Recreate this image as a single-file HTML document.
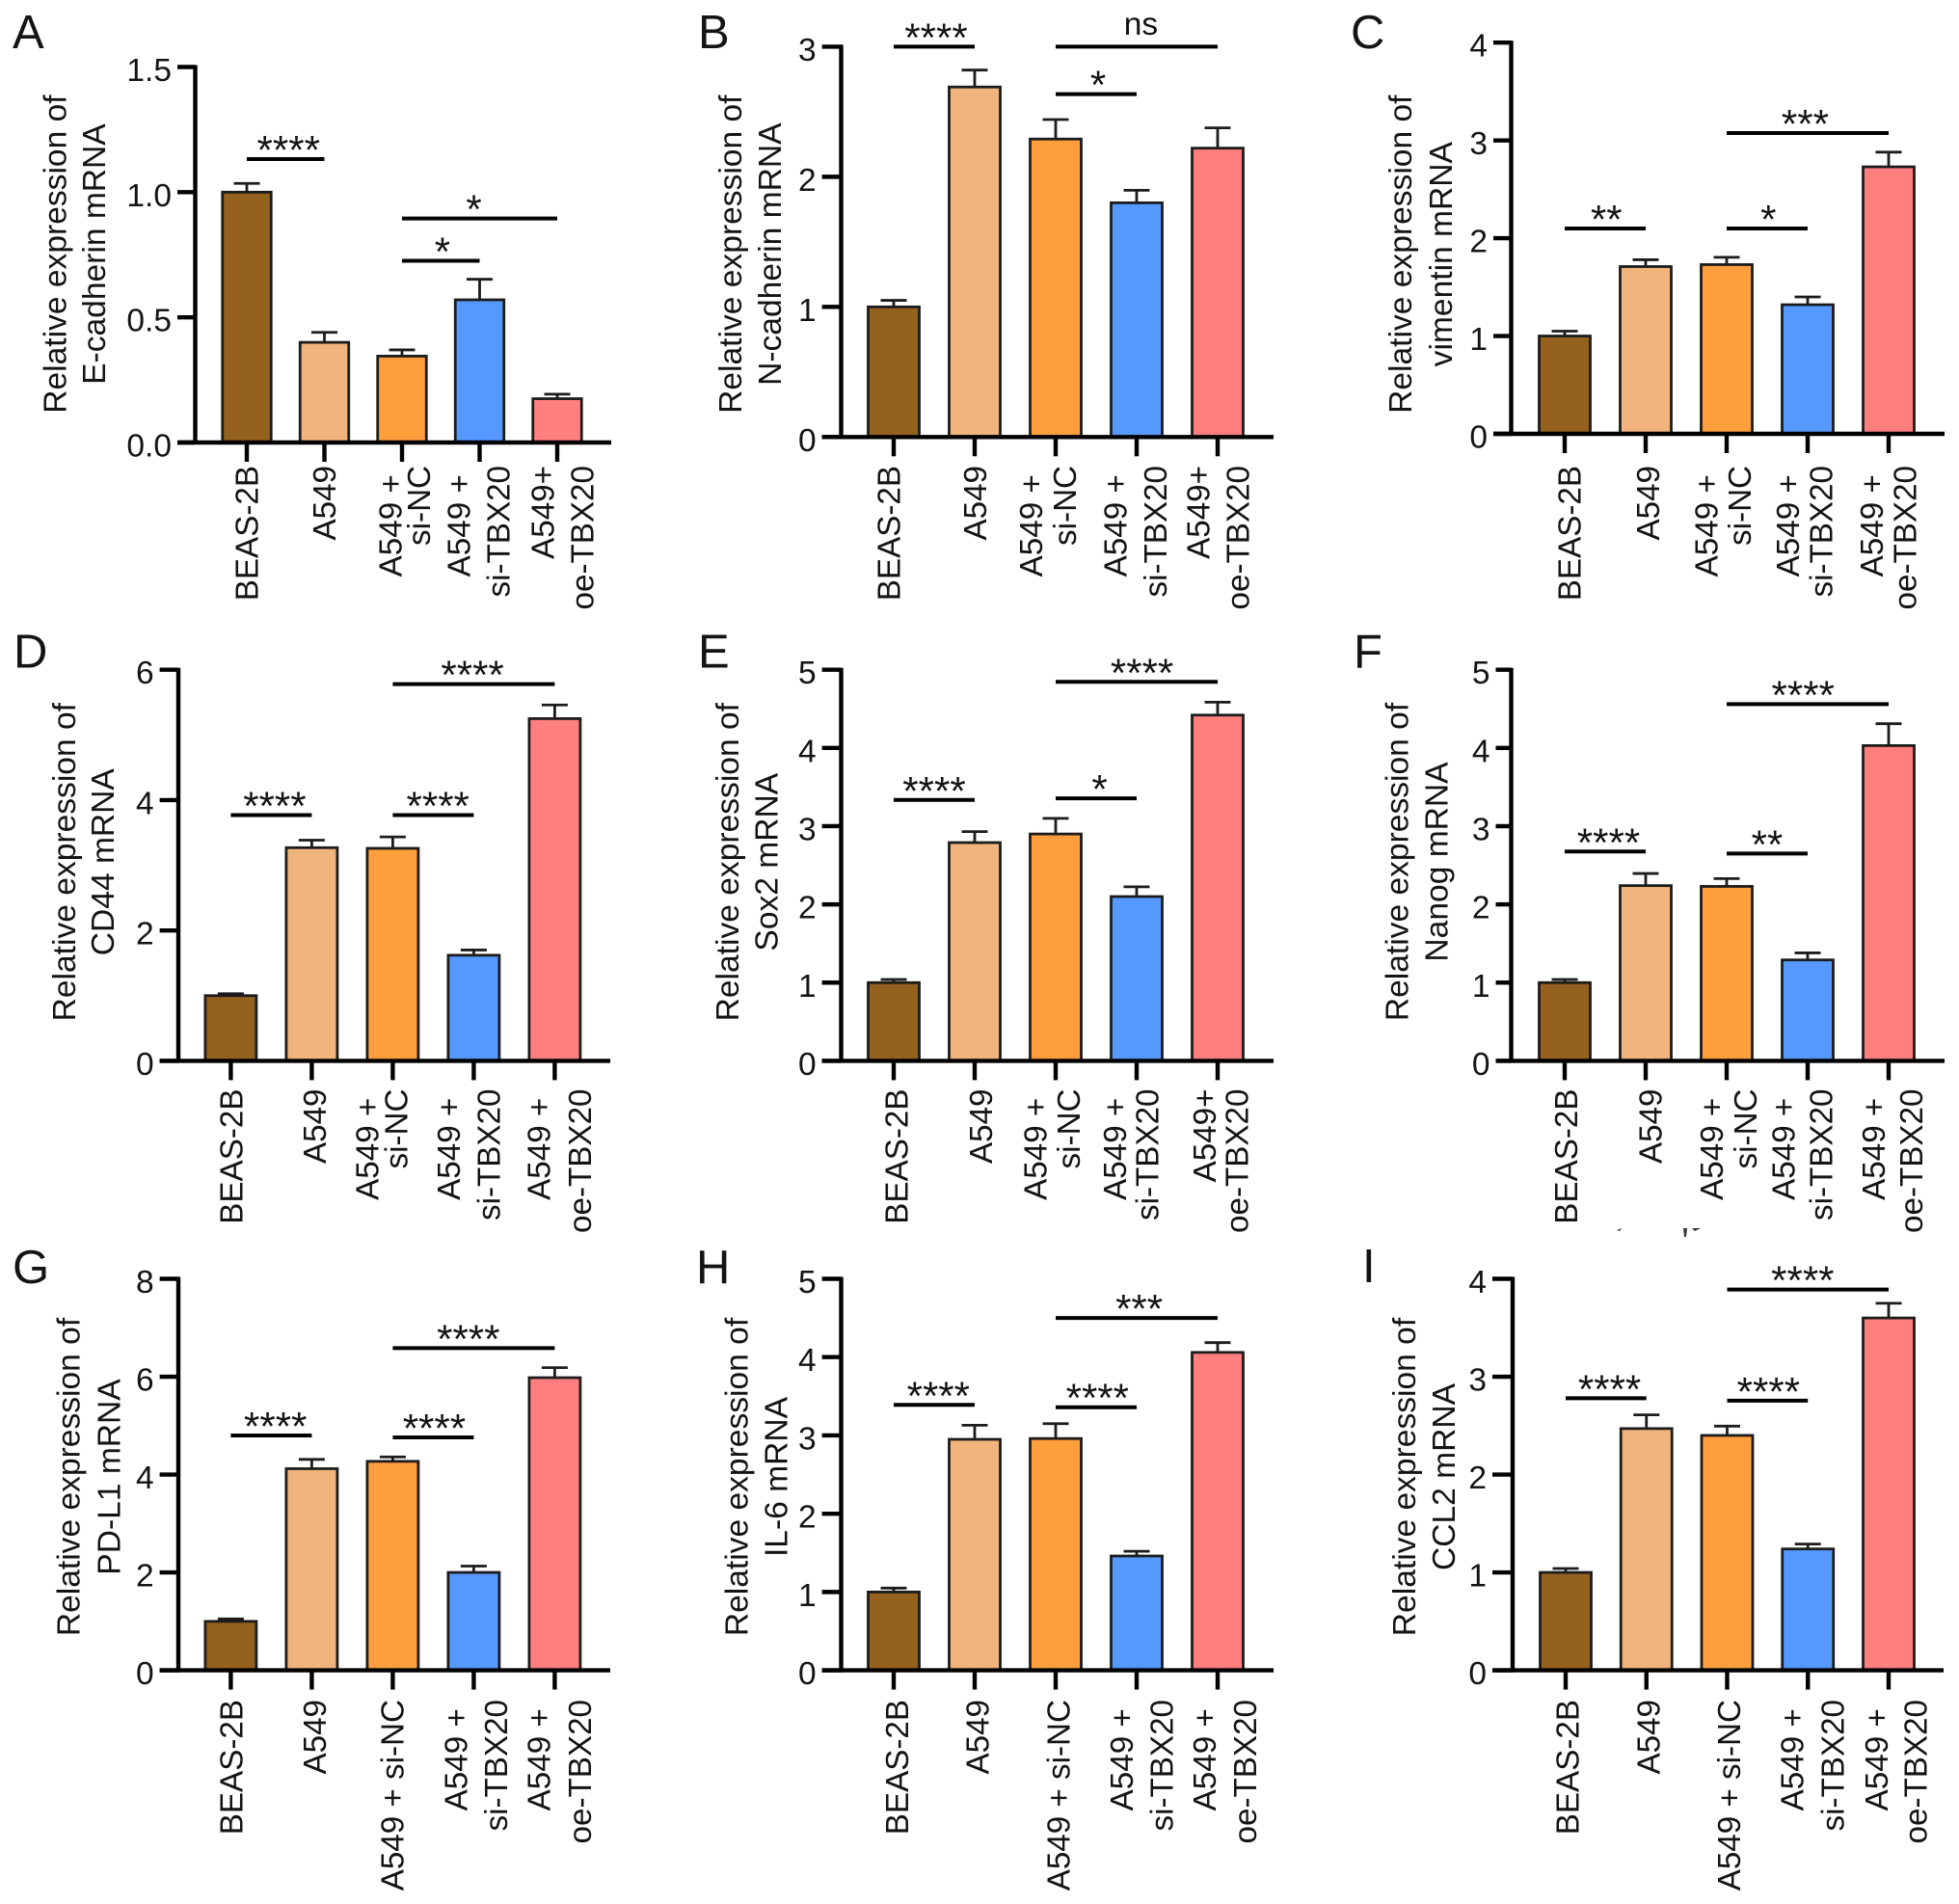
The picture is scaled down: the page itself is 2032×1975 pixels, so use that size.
<!DOCTYPE html>
<html lang="en">
<head>
<meta charset="utf-8">
<title>Relative mRNA expression panels</title>
<style>
html,body{margin:0;padding:0;background:#fff;width:2032px;height:1975px;overflow:hidden}
svg{display:block;font-family:"Liberation Sans",Arial,sans-serif}
text{fill:#141414;white-space:pre}
</style>
</head>
<body>
<svg id="figure" width="2032" height="1975" viewBox="0 0 2032 1975" xmlns="http://www.w3.org/2000/svg">
  <g fill="#333">
    <polygon points="1677,1276 1682,1274 1680,1277"/>
    <polygon points="1746,1274 1750,1274 1749,1283 1747,1283"/>
    <polygon points="1755,1274 1764,1274 1758,1277"/>
  </g>
</svg>
<script>
const barColors = ["#94611F", "#F0B47C", "#FF9E3D", "#5599FF", "#FF7F7F"];
const bracketPairs = [[0, 1], [2, 3], [2, 4]];

const aTitle = ["Relative expression of", "E-cadherin mRNA"];
const aTicks = ["0.0", "0.5", "1.0", "1.5"];
const aValues = [1.0, 0.40, 0.345, 0.57, 0.175];
const aErrors = [0.035, 0.04, 0.025, 0.082, 0.018];
const aBracketLevels = [1.132, 0.726, 0.895];
const aBracketLabels = ["****", "*", "*"];
const aCategories = [["BEAS-2B"], ["A549"], ["A549 + ", "si-NC"], ["A549 + ", "si-TBX20"], ["A549+", "oe-TBX20"]];

const bTitle = ["Relative expression of", "N-cadherin mRNA"];
const bTicks = ["0", "1", "2", "3"];
const bValues = [1.0, 2.69, 2.29, 1.80, 2.22];
const bErrors = [0.05, 0.13, 0.15, 0.096, 0.156];
const bBracketLevels = [3.0, 2.635, 3.0];
const bBracketLabels = ["****", "*", "ns"];
const bCategories = [["BEAS-2B"], ["A549"], ["A549 + ", "si-NC"], ["A549 + ", "si-TBX20"], ["A549+", "oe-TBX20"]];

const cTitle = ["Relative expression of", "vimentin mRNA"];
const cTicks = ["0", "1", "2", "3", "4"];
const cValues = [1.0, 1.71, 1.73, 1.32, 2.73];
const cErrors = [0.05, 0.07, 0.075, 0.08, 0.15];
const cBracketLevels = [2.10, 2.10, 3.075];
const cBracketLabels = ["**", "*", "***"];
const cCategories = [["BEAS-2B"], ["A549"], ["A549 + ", "si-NC"], ["A549 + ", "si-TBX20"], ["A549 + ", "oe-TBX20"]];

const dTitle = ["Relative expression of", "CD44 mRNA"];
const dTicks = ["0", "2", "4", "6"];
const dValues = [1.0, 3.27, 3.26, 1.62, 5.25];
const dErrors = [0.03, 0.115, 0.175, 0.08, 0.21];
const dBracketLevels = [3.77, 3.77, 5.78];
const dBracketLabels = ["****", "****", "****"];
const dCategories = [["BEAS-2B"], ["A549"], ["A549 + ", "si-NC"], ["A549 + ", "si-TBX20"], ["A549 + ", "oe-TBX20"]];

const eTitle = ["Relative expression of", "Sox2 mRNA"];
const eTicks = ["0", "1", "2", "3", "4", "5"];
const eValues = [1.0, 2.79, 2.90, 2.10, 4.42];
const eErrors = [0.04, 0.14, 0.20, 0.125, 0.165];
const eBracketLevels = [3.335, 3.355, 4.845];
const eBracketLabels = ["****", "*", "****"];
const eCategories = [["BEAS-2B"], ["A549"], ["A549 + ", "si-NC"], ["A549 + ", "si-TBX20"], ["A549+", "oe-TBX20"]];

const fTitle = ["Relative expression of", "Nanog mRNA"];
const fTicks = ["0", "1", "2", "3", "4", "5"];
const fValues = [1.0, 2.24, 2.23, 1.29, 4.03];
const fErrors = [0.04, 0.155, 0.10, 0.09, 0.28];
const fBracketLevels = [2.676, 2.65, 4.56];
const fBracketLabels = ["****", "**", "****"];
const fCategories = [["BEAS-2B"], ["A549"], ["A549 + ", "si-NC"], ["A549 + ", "si-TBX20"], ["A549 + ", "oe-TBX20"]];

const gTitle = ["Relative expression of", "PD-L1 mRNA"];
const gTicks = ["0", "2", "4", "6", "8"];
const gValues = [1.0, 4.12, 4.27, 2.0, 5.98];
const gErrors = [0.05, 0.19, 0.09, 0.13, 0.205];
const gBracketLevels = [4.80, 4.76, 6.585];
const gBracketLabels = ["****", "****", "****"];
const gCategories = [["BEAS-2B"], ["A549"], ["A549 + si-NC"], ["A549 + ", "si-TBX20"], ["A549 + ", "oe-TBX20"]];

const hTitle = ["Relative expression of", "IL-6 mRNA"];
const hTicks = ["0", "1", "2", "3", "4", "5"];
const hValues = [1.0, 2.95, 2.96, 1.46, 4.06];
const hErrors = [0.05, 0.18, 0.19, 0.06, 0.125];
const hBracketLevels = [3.39, 3.36, 4.50];
const hBracketLabels = ["****", "****", "***"];
const hCategories = [["BEAS-2B"], ["A549"], ["A549 + si-NC"], ["A549 + ", "si-TBX20"], ["A549 + ", "oe-TBX20"]];

const iTitle = ["Relative expression of", "CCL2 mRNA"];
const iTicks = ["0", "1", "2", "3", "4"];
const iValues = [1.0, 2.47, 2.40, 1.24, 3.60];
const iErrors = [0.04, 0.14, 0.095, 0.05, 0.15];
const iBracketLevels = [2.78, 2.755, 3.89];
const iBracketLabels = ["****", "****", "****"];
const iCategories = [["BEAS-2B"], ["A549"], ["A549 + si-NC"], ["A549 + ", "si-TBX20"], ["A549 + ", "oe-TBX20"]];

const panels = [
  {id:"a", letter:"A", lx:13, ly:50, title:aTitle, ticks:aTicks, values:aValues, errors:aErrors, levels:aBracketLevels, marks:aBracketLabels, cats:aCategories,
   frame:{axisX:202.5,y0:459,yTop:69.5,xEnd:634,tickLeft:184,first:256,step:80.5,barW:50.5,labelTop:483,titleX:[68.5,109],titleY:263.6,markDx:[3,1.7,-6],
   dx:[[11.7],[11.7],[-0.4,29],[-10,31],[-3.5,37.7]]}},
  {id:"b", letter:"B", lx:724, ly:50, title:bTitle, ticks:bTicks, values:bValues, errors:bErrors, levels:bBracketLevels, marks:bBracketLabels, cats:bCategories,
   frame:{axisX:872.5,y0:453.3,yTop:48.4,xEnd:1321,tickLeft:852.6,first:927,step:84,barW:53,labelTop:483,titleX:[769,810],titleY:263.7,markDx:[2,2,4.5],
   dx:[[6.5],[12],[-14,21],[-10.4,31],[-8.7,32.5]]}},
  {id:"c", letter:"C", lx:1401, ly:50, title:cTitle, ticks:cTicks, values:cValues, errors:cErrors, levels:cBracketLevels, marks:cBracketLabels, cats:cCategories,
   frame:{axisX:1567.5,y0:450,yTop:44.2,xEnd:2017,tickLeft:1549,first:1623,step:84,barW:53,labelTop:483,titleX:[1464,1506],titleY:263.7,markDx:[1.3,1.3,-2.6],
   dx:[[16.5],[14],[-9.5,25],[-9,25.6],[-6,28.6]]}},
  {id:"d", letter:"D", lx:14, ly:692.6, title:dTitle, ticks:dTicks, values:dValues, errors:dErrors, levels:dBracketLevels, marks:dBracketLabels, cats:dCategories,
   frame:{axisX:185,y0:1100.4,yTop:694.7,xEnd:633,tickLeft:165.6,first:239.4,step:84,barW:53,labelTop:1129.5,titleX:[78,118],titleY:894.2,markDx:[3.5,4.8,-1.3],
   dx:[[12],[14.7],[-15,15],[-14.3,27],[-5,37.7]]}},
  {id:"e", letter:"E", lx:724, ly:692.6, title:eTitle, ticks:eTicks, values:eValues, errors:eErrors, levels:eBracketLevels, marks:eBracketLabels, cats:eCategories,
   frame:{axisX:872.5,y0:1100.4,yTop:694.7,xEnd:1321,tickLeft:852.6,first:927,step:84,barW:53,labelTop:1129.5,titleX:[766,806.6],titleY:894.2,markDx:[0,3.5,5.6],
   dx:[[14.3],[17.8],[-9.5,25],[-11,22.5],[-2,31.7]]}},
  {id:"f", letter:"F", lx:1404, ly:692.6, title:fTitle, ticks:fTicks, values:fValues, errors:fErrors, levels:fBracketLevels, marks:fBracketLabels, cats:fCategories,
   frame:{axisX:1567.5,y0:1100.4,yTop:694.7,xEnd:2017,tickLeft:1551.5,first:1623,step:84,barW:53,labelTop:1129.5,titleX:[1460.4,1501.6],titleY:894,markDx:[3.5,0,-4.8],
   dx:[[13],[16.5],[-4,31],[-13.4,25.6],[-4,35]]}},
  {id:"g", letter:"G", lx:13, ly:1331, title:gTitle, ticks:gTicks, values:gValues, errors:gErrors, levels:gBracketLevels, marks:gBracketLabels, cats:gCategories,
   frame:{axisX:185,y0:1732.6,yTop:1326.5,xEnd:633,tickLeft:165.6,first:239.4,step:84,barW:53,labelTop:1763,titleX:[82.4,124.5],titleY:1532,markDx:[4.3,1,-5.6],
   dx:[[12],[14.7],[11],[-7,34.7],[-5,37.7]]}},
  {id:"h", letter:"H", lx:722, ly:1331, title:hTitle, ticks:hTicks, values:hValues, errors:hErrors, levels:hBracketLevels, marks:hBracketLabels, cats:hCategories,
   frame:{axisX:872.5,y0:1732.6,yTop:1326.5,xEnd:1321,tickLeft:852.6,first:927,step:84,barW:53,labelTop:1763,titleX:[775.4,816.6],titleY:1532,markDx:[4.3,1.3,2.6],
   dx:[[15],[14.3],[14.3],[-4,37.7],[-2,40]]}},
  {id:"i", letter:"I", lx:1413, ly:1330, title:iTitle, ticks:iTicks, values:iValues, errors:iErrors, levels:iBracketLevels, marks:iBracketLabels, cats:iCategories,
   frame:{axisX:1569,y0:1732.6,yTop:1326.5,xEnd:2016,tickLeft:1548,first:1624,step:83.75,barW:53,labelTop:1763,titleX:[1468,1509],titleY:1532,markDx:[3.7,1,-5.4],
   dx:[[13.7],[13.7],[13.7],[-4.6,37],[-1,39.5]]}}
];

const NS = "http://www.w3.org/2000/svg";
const root = document.getElementById("figure");
const TITLE_FONT = 33.6, TICK_FONT = 33.5, CAT_FONT = 33.2, INK = "#000", BAR_INK = "#1c1c1c";

function make(tag, parent, attrs, content) {
  const el = document.createElementNS(NS, tag);
  for (const k in attrs) el.setAttribute(k, attrs[k]);
  if (content !== undefined) el.textContent = content;
  parent.appendChild(el);
  return el;
}

panels.forEach(function (p) {
  const f = p.frame;
  const maxTick = parseFloat(p.ticks[p.ticks.length - 1]);
  const yScale = function (v) { return f.y0 - (v / maxTick) * (f.y0 - f.yTop); };
  const xScale = function (i) { return f.first + f.step * i; };

  const g = make("g", root, {});
  
  

  const letter = make("text", g, {x: p.lx, y: p.ly, "font-size": 49}, p.letter);
  
  

  p.title.forEach(function (line, k) {
    const tx = f.titleX[k];
    const t = make("text", g, {x: tx, y: f.titleY, "font-size": TITLE_FONT, "text-anchor": "middle",
      transform: "rotate(-90 " + tx + " " + f.titleY + ")"}, line);
    
    
  });

  p.values.forEach(function (v, i) {
    const cx = xScale(i);
    const top = yScale(v + p.errors[i]);
    const stem = make("line", g, {x1: cx, x2: cx, y1: yScale(v), y2: top, stroke: BAR_INK, "stroke-width": 2.8});
    
    
    const cap = make("line", g, {x1: cx - 13.5, x2: cx + 13.5, y1: top, y2: top, stroke: BAR_INK, "stroke-width": 2.8});
    
    
    const bar = make("rect", g, {x: cx - f.barW / 2, y: yScale(v), width: f.barW, height: f.y0 - yScale(v),
      fill: barColors[i], stroke: BAR_INK, "stroke-width": 2.8});
    
    
  });

  const yAxis = make("line", g, {x1: f.axisX, x2: f.axisX, y1: f.yTop - 2, y2: f.y0 + 2, stroke: INK, "stroke-width": 4.4});
  
  
  const xAxis = make("line", g, {x1: f.tickLeft, x2: f.xEnd, y1: f.y0, y2: f.y0, stroke: INK, "stroke-width": 4.4});
  
  

  p.ticks.forEach(function (label) {
    const y = yScale(parseFloat(label));
    const tick = make("line", g, {x1: f.tickLeft, x2: f.axisX, y1: y, y2: y, stroke: INK, "stroke-width": 4.4});
    
    
    const t = make("text", g, {x: f.tickLeft - 6, y: y + 14.5, "font-size": TICK_FONT, "text-anchor": "end"}, label);
    
    
  });

  p.cats.forEach(function (lines, i) {
    const cx = xScale(i);
    const tick = make("line", g, {x1: cx, x2: cx, y1: f.y0, y2: f.y0 + 20, stroke: INK, "stroke-width": 4.4});
    
    
    lines.forEach(function (line, k) {
      const lx = cx + f.dx[i][k];
      const t = make("text", g, {x: lx, y: f.labelTop, "font-size": CAT_FONT, "text-anchor": "end",
        transform: "rotate(-90 " + lx + " " + f.labelTop + ")"}, line);
      
      
    });
  });

  bracketPairs.forEach(function (pair, k) {
    const y = yScale(p.levels[k]);
    const x1 = xScale(pair[0]), x2 = xScale(pair[1]);
    const line = make("line", g, {x1: x1, x2: x2, y1: y, y2: y, stroke: INK, "stroke-width": 4});
    
    
    const isNs = p.marks[k] === "ns";
    const t = make("text", g, {x: (x1 + x2) / 2 + f.markDx[k], y: isNs ? y - 12.4 : y + 5, "font-size": isNs ? 33.5 : 42, "text-anchor": "middle"}, p.marks[k]);
    
    
  });
});
</script>
</body>
</html>
